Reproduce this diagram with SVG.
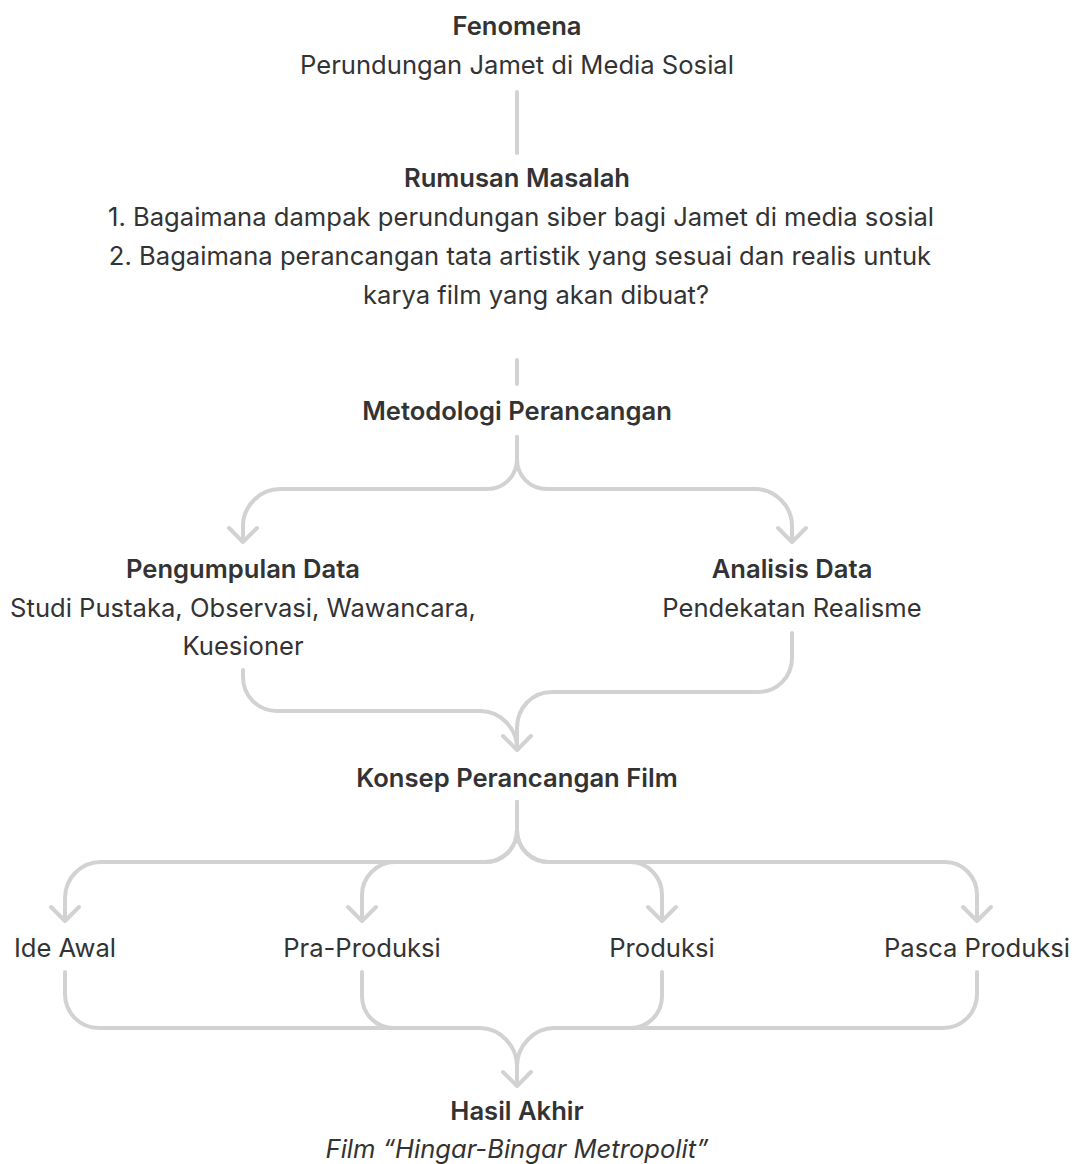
<svg xmlns="http://www.w3.org/2000/svg" width="1074" height="1164" viewBox="0 0 1074 1164">
<style>
text{font-family:Inter,"Noto Sans","Liberation Sans",sans-serif;font-size:25.6px;fill:#333;text-anchor:middle}
.b{font-weight:600}
.i{font-style:italic}
.c path{fill:none;stroke:#d2d2d2;stroke-width:4;stroke-linecap:round;stroke-linejoin:round}
</style>
<rect width="1074" height="1164" fill="#fff"/>
<g class="c" id="connectors">
<path d="M517,92 V153"/>
<path d="M517,360 V384"/>
<path d="M517,437 V459 C517,476 504,489 487,489 H280 C260,489 243,506 243,526 V541"/>
<path d="M517,437 V459 C517,476 530,489 547,489 H755 C775,489 792,506 792,526 V541"/>
<path d="M229,528 L243,542 L257,528"/>
<path d="M778,528 L792,542 L806,528"/>
<path d="M243,670 V677 C243,696 258,711 277,711 H480 C500,711 517,728 517,748"/>
<path d="M792,633 V658 C792,677 777,692 758,692 H552 C532,692 517,708 517,728 V748"/>
<path d="M503,736 L517,750 L531,736"/>
<path d="M517,802 V830 C517,848 503,862 485,862 H101 C81,862 65,878 65,898 V920"/>
<path d="M517,802 V830 C517,848 503,862 485,862 H395 C377,862 362,877 362,895 V920"/>
<path d="M517,802 V830 C517,848 531,862 549,862 H630 C648,862 662,877 662,895 V920"/>
<path d="M517,802 V830 C517,848 531,862 549,862 H945 C963,862 977,877 977,895 V920"/>
<path d="M51,907 L65,921 L79,907"/>
<path d="M348,907 L362,921 L376,907"/>
<path d="M648,907 L662,921 L676,907"/>
<path d="M963,907 L977,921 L991,907"/>
<path d="M65,972 V994 C65,1013 80,1028 99,1028 H480 C500,1028 517,1046 517,1066 V1084"/>
<path d="M362,972 V996 C362,1014 376,1028 394,1028 H480"/>
<path d="M662,972 V996 C662,1014 648,1028 630,1028 H554"/>
<path d="M977,972 V994 C977,1013 962,1028 943,1028 H554 C534,1028 517,1046 517,1066 V1084"/>
<path d="M503,1072 L517,1086 L531,1072"/>
</g>
<g id="fenomena">
<text class="b" x="517" y="35">Fenomena</text>
<text x="517" y="74">Perundungan Jamet di Media Sosial</text>
</g>
<g id="rumusan">
<text class="b" x="517" y="187">Rumusan Masalah</text>
<text x="521" y="226">1. Bagaimana dampak perundungan siber bagi Jamet di media sosial</text>
<text x="520" y="265">2. Bagaimana perancangan tata artistik yang sesuai dan realis untuk</text>
<text x="536" y="304">karya film yang akan dibuat?</text>
</g>
<g id="metodologi">
<text class="b" x="517" y="420">Metodologi Perancangan</text>
</g>
<g id="pengumpulan">
<text class="b" x="243" y="578">Pengumpulan Data</text>
<text x="243" y="617">Studi Pustaka, Observasi, Wawancara,</text>
<text x="243" y="655">Kuesioner</text>
</g>
<g id="analisis">
<text class="b" x="792" y="578">Analisis Data</text>
<text x="792" y="617">Pendekatan Realisme</text>
</g>
<g id="konsep">
<text class="b" x="517" y="787">Konsep Perancangan Film</text>
</g>
<g id="ide"><text x="65" y="957">Ide Awal</text></g>
<g id="pra"><text x="362" y="957">Pra-Produksi</text></g>
<g id="produksi"><text x="662" y="957">Produksi</text></g>
<g id="pasca"><text x="977" y="957">Pasca Produksi</text></g>
<g id="hasil">
<text class="b" x="517" y="1120">Hasil Akhir</text>
<text class="i" x="517" y="1158">Film “Hingar-Bingar Metropolit”</text>
</g>
</svg>
